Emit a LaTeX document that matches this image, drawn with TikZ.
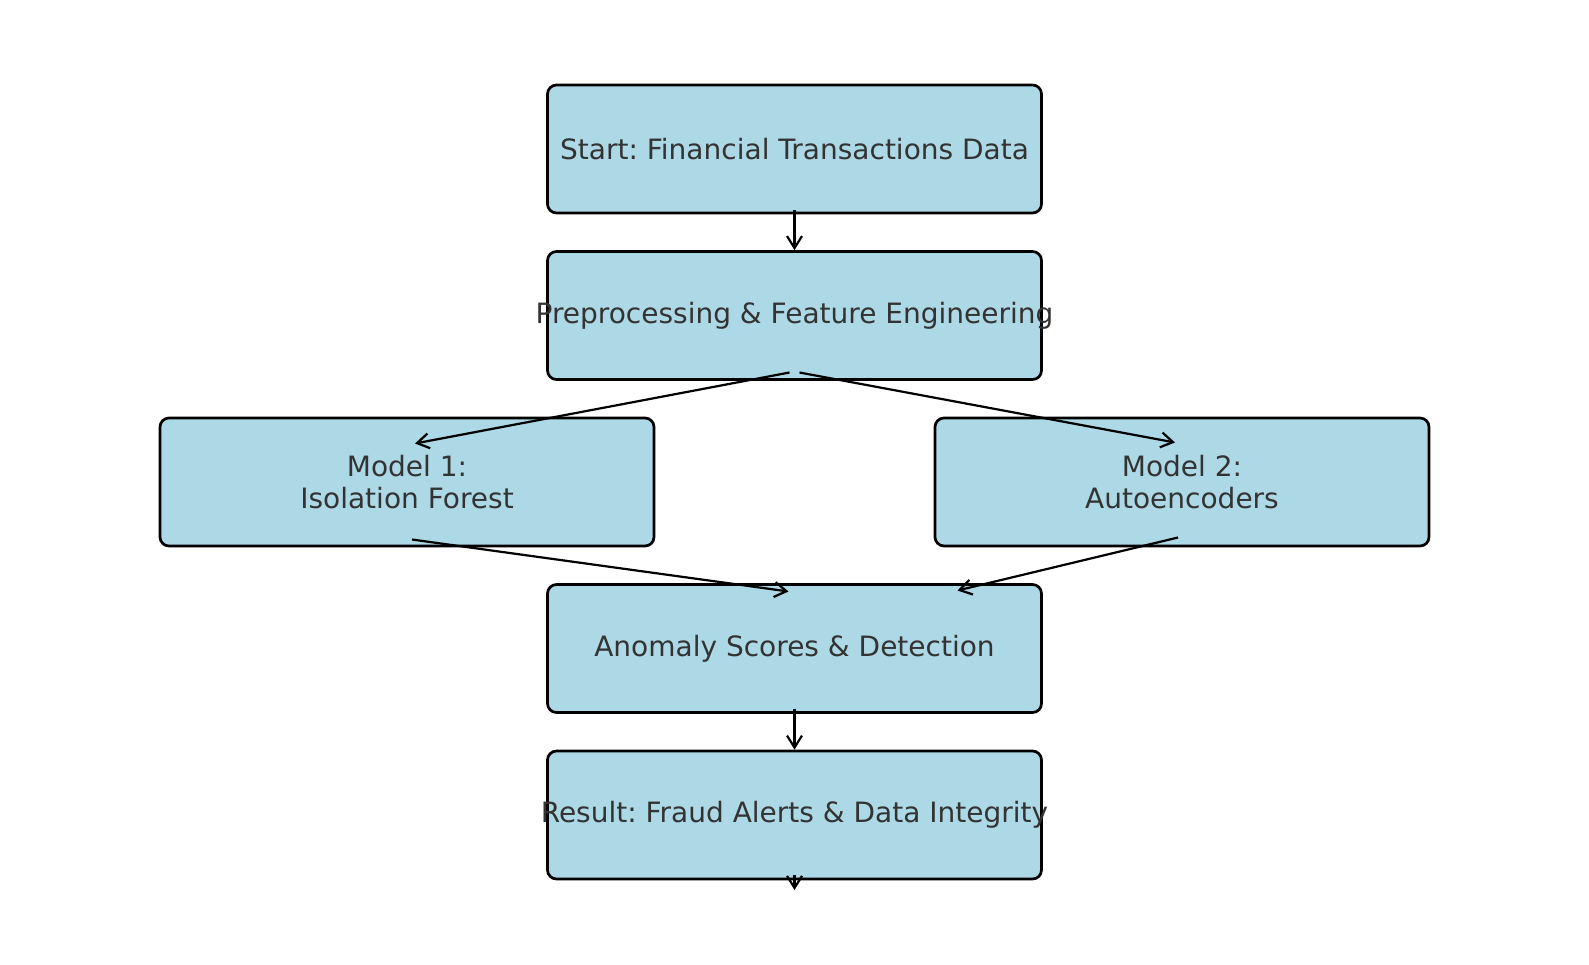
\documentclass[tikz,border=0pt]{standalone}
\usepackage{fontspec}
\setmainfont{DejaVu Sans}
\usetikzlibrary{calc,positioning,arrows.meta}
\definecolor{boxblue}{RGB}{173,216,230}
\definecolor{textgray}{RGB}{51,51,51}
\tikzset{
    stagebox/.style={draw=black, fill=boxblue, line width=1.35pt, rounded corners=4.5pt,
                     minimum width=247pt, minimum height=64pt, inner sep=0pt,
                     text=textgray, align=center, font=\fontsize{14}{16}\selectfont},
    flow/.style={line width=1.1pt, -{Straight Barb[length=6pt,width=7.5pt]}}
}
\newcommand{\widetext}[1]{\makebox[0pt]{#1}}
\frenchspacing

\begin{document}
\begin{tikzpicture}[x=0.5pt,y=-0.5pt]
            \useasboundingbox (0,0) rectangle (1589,964);
                % stages of the flow
                \node[stagebox] (start) at (794.5,149) {Start: Financial Transactions Data};
                \node[stagebox] (pre) at (794.5,315.5) {\widetext{Preprocessing \& Feature Engineering}};
                \node[stagebox] (mif) at (407,482) {Model 1:\\Isolation Forest};
                \node[stagebox] (mae) at (1182,482) {Model 2:\\Autoencoders};
                \node[stagebox] (score) at (794.5,648.5) {Anomaly Scores \& Detection};
                \node[stagebox] (result) at (794.5,815) {\widetext{Result: Fraud Alerts \& Data Integrity}};

                % connectors
                \draw[flow] ($(start.center)+(0,61)$) -- (pre.north);
                \draw[flow] ($(pre.center)+(-5,57)$) -- ($(mif.center)+(8,-38.5)$);
                \draw[flow] ($(pre.center)+(5,57)$) -- ($(mae.center)+(-7,-39.5)$);
                \draw[flow] ($(mif.center)+(5,57.5)$) -- ($(score.center)+(-6,-57)$);
                \draw[flow] ($(mae.center)+(-4,55.5)$) -- ($(score.center)+(163,-58)$);
                \draw[flow] ($(score.center)+(0,60)$) -- (result.north);
                \coordinate (out) at ($(result.center)+(0,75)$);
                \draw[flow] ($(result.center)+(0,60)$) -- (out);
\end{tikzpicture}
\end{document}
